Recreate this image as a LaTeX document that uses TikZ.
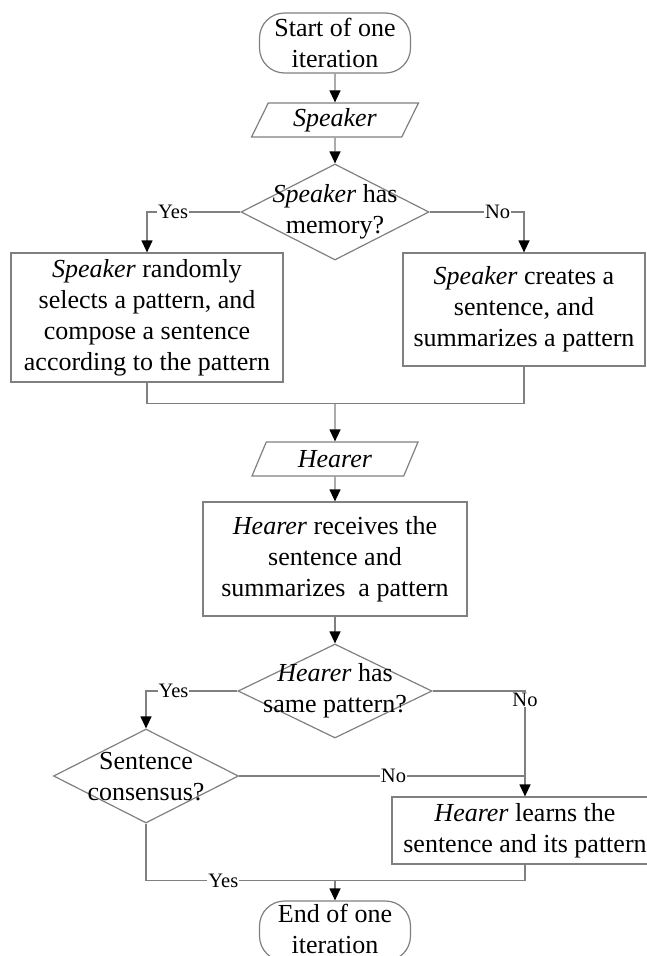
\documentclass[tikz,border=0pt]{standalone}
\usepackage{fontspec}
\setmainfont{Liberation Serif}
\usetikzlibrary{arrows.meta,shapes.geometric}
\definecolor{lc}{RGB}{128,128,128}
\begin{document}
\begin{tikzpicture}[x=1pt,y=-1pt,
  every node/.style={font=\fontsize{26}{31}\selectfont, align=center, inner sep=0pt},
  box/.style={draw=lc, line width=1.2pt, rectangle},
  term/.style={draw=lc, line width=1.2pt, rectangle, rounded corners=25pt, minimum width=151pt, minimum height=60pt},
  para/.style={draw=lc, line width=1.2pt, trapezium, trapezium left angle=66, trapezium right angle=114, trapezium stretches=true, minimum width=167pt, minimum height=34pt},
  diam/.style={draw=lc, line width=1.2pt, diamond},
  lbl/.style={font=\fontsize{20.5}{22}\selectfont, fill=white, inner sep=1pt},
  conn/.style={draw=lc, line width=1.2pt},
  arr/.style={conn, -{Triangle[length=12pt,width=11pt,color=black,fill=black]}},
]
\fill[white] (0,0) rectangle (647,956);
\clip (0,0) rectangle (647,956);

\node[term] (start) at (335,43) {Start of one\\iteration};
\node[para] (spk) at (335,120) {\textit{Speaker}};
\node[diam, minimum width=188pt, minimum height=96pt] (d1) at (335,212) {};
\node (d1t) at (335,212) {\textit{Speaker} has\\memory?};
\node[box, minimum width=272pt, minimum height=129pt] (L) at (147,317.5) {\textit{Speaker} randomly\\selects a pattern, and\\compose a sentence\\according to the pattern};
\node[box, minimum width=242pt, minimum height=113pt] (R) at (524,309.5) {\textit{Speaker} creates a\\sentence, and\\summarizes a pattern};
\coordinate (m1) at (335,403);
\node[para] (H) at (335,459) {\textit{Hearer}};
\node[box, minimum width=264pt, minimum height=114pt] (HB) at (335,559) {\textit{Hearer} receives the\\sentence and\\summarizes\ \ a pattern};
\node[diam, minimum width=194pt, minimum height=94pt] (d2) at (335,691) {};
\node (d2t) at (335,691) {\textit{Hearer} has\\same pattern?};
\node[diam, minimum width=185pt, minimum height=94pt] (d3) at (146,776) {};
\node (d3t) at (146,777) {Sentence\\consensus?};
\node[box, minimum width=266pt, minimum height=67pt] (HL) at (525,830.5) {\textit{Hearer} learns the\\sentence and its pattern};
\coordinate (m2) at (335,880);
\node[term] (end) at (335,931) {};
\node (endt) at (335,929) {End of one\\iteration};

\draw[arr] (start.south) -- (spk.north);
\draw[arr] (spk.south) -- (d1.north);
\draw[arr] (d1.west) -| node[lbl, pos=0.36] (y1) {Yes} (L.north);
\draw[arr] (d1.east) -| node[lbl, pos=0.36] (n1) {No} (R.north);
\draw[conn] (L.south) -- ++(0,21) -| (R.south);
\draw[arr] (m1) -- (H.north);
\draw[arr] (H.south) -- (HB.north);
\draw[arr] (HB.south) -- (d2.north);
\draw[arr] (d2.west) -| node[lbl, pos=0.35] (y2) {Yes} (d3.north);
\draw[arr] (d2.east) -| node[lbl, pos=0.54] (n2) {No} (HL.north);
\draw[conn] (d3.east) -- node[lbl, pos=0.54] (n3) {No} (d3.east -| HL.north);
\draw[conn] (d3.south) -- ++(0,57) -| node[lbl, pos=0.102] (y3) {Yes} (HL.south);
\draw[arr] (m2) -- (end.north);
\end{tikzpicture}
\end{document}
